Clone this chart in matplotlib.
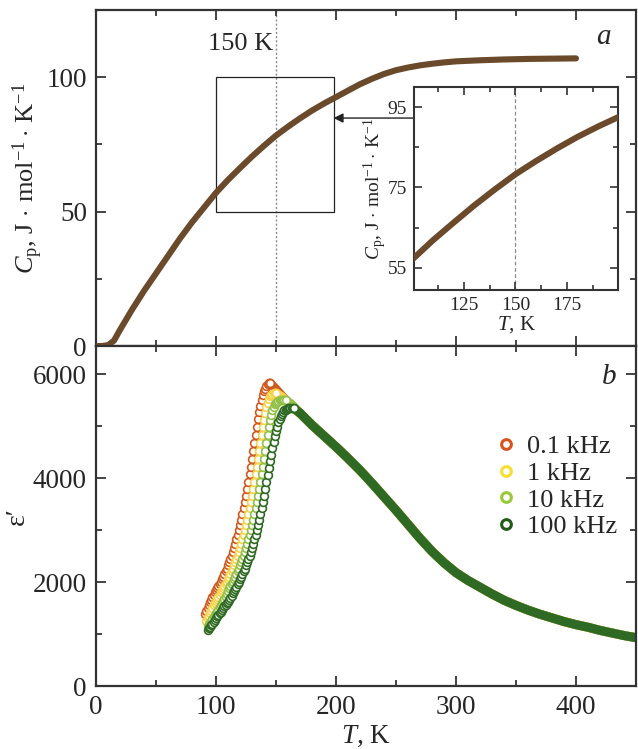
import matplotlib
matplotlib.use("Agg")
import matplotlib.pyplot as plt
from matplotlib.patches import Rectangle
from matplotlib.lines import Line2D
from matplotlib.ticker import MultipleLocator

plt.rcParams['font.family'] = ['Liberation Serif', 'DejaVu Serif']
plt.rcParams['mathtext.fontset'] = 'custom'
plt.rcParams['mathtext.rm'] = 'Liberation Serif'
plt.rcParams['mathtext.it'] = 'Liberation Serif:italic'

# ---------------- data: heat capacity ----------------
T_cp = [2, 5, 10, 15, 20, 30, 40, 50, 60, 70, 80, 90, 100, 110, 120, 130, 140, 150,
        160, 170, 180, 190, 200, 210, 220, 230, 240, 250, 260, 270, 280, 290, 300,
        320, 340, 360, 380, 400]
Cp = [0, 0, 0.3, 2, 6, 13.5, 20.5, 27, 33.5, 40, 46, 51.5, 57, 61.8, 66.2, 70.5, 74.5, 78.3,
      81.6, 84.7, 87.6, 90.2, 92.6, 95, 97.4, 99.4, 101.2, 102.6, 103.6, 104.4, 105, 105.5, 105.9,
      106.3, 106.6, 106.8, 106.9, 107]

# ---------------- data: dielectric permittivity ----------------
labels = ['0.1 kHz', '1 kHz', '10 kHz', '100 kHz']
colors = ['#cf5a1f', '#f6d34a', '#93c047', '#2f6a24']
legend_colors = ['#d9531e', '#f7df30', '#9ac93a', '#245a1a']

T_01 = list(range(91, 146))
eps_01 = [1380, 1440, 1500, 1555, 1610, 1660, 1710, 1755, 1800, 1840, 1880, 1920, 1960, 2005,
          2050, 2100, 2150, 2205, 2260, 2320, 2380, 2445, 2510, 2585, 2660, 2740, 2820, 2910,
          3000, 3100, 3200, 3310, 3420, 3540, 3660, 3795, 3930, 4075, 4220, 4370, 4520, 4675,
          4830, 4980, 5130, 5265, 5390, 5500, 5590, 5665, 5720, 5765, 5800, 5820, 5830]
T_01_desc = [145, 150, 155, 160, 165, 170]
eps_01_desc = [5830, 5710, 5580, 5450, 5330, 5250]

T_1 = list(range(92, 151))
eps_1 = [1250, 1300, 1350, 1400, 1450, 1500, 1550, 1600, 1630, 1680, 1720, 1760, 1800, 1840,
         1880, 1920, 1960, 2005, 2050, 2100, 2150, 2205, 2260, 2320, 2380, 2445, 2510, 2585,
         2660, 2740, 2820, 2910, 3000, 3100, 3200, 3310, 3420, 3540, 3660, 3795, 3930, 4075,
         4220, 4370, 4520, 4675, 4830, 4980, 5120, 5250, 5360, 5450, 5520, 5570, 5600, 5620,
         5630, 5635, 5635]
T_1_desc = [150, 155, 160, 165, 170]
eps_1_desc = [5635, 5560, 5440, 5330, 5250]

T_10 = list(range(93, 159))
eps_10 = [1150, 1185, 1220, 1255, 1290, 1325, 1360, 1395, 1430, 1470, 1510, 1550, 1590, 1630,
          1675, 1720, 1770, 1825, 1880, 1920, 1960, 2005, 2050, 2100, 2150, 2205, 2260, 2320,
          2380, 2445, 2510, 2585, 2660, 2740, 2820, 2910, 3000, 3100, 3200, 3310, 3420, 3540,
          3660, 3795, 3930, 4075, 4220, 4370, 4520, 4675, 4830, 4980, 5110, 5220, 5310, 5375,
          5420, 5450, 5472, 5487, 5496, 5500, 5503, 5504, 5503, 5500]
T_10_desc = [158, 163, 167, 170]
eps_10_desc = [5500, 5420, 5320, 5250]

T_100 = list(range(93, 166))
eps_100 = [1080, 1110, 1140, 1170, 1200, 1235, 1270, 1305, 1340, 1370, 1400, 1430, 1460, 1495,
           1530, 1560, 1590, 1625, 1660, 1700, 1740, 1780, 1820, 1860, 1905, 1955, 2005, 2050,
           2100, 2150, 2205, 2260, 2320, 2380, 2445, 2510, 2585, 2660, 2740, 2820, 2910, 3000,
           3100, 3200, 3310, 3420, 3540, 3660, 3795, 3930, 4060, 4190, 4320, 4450, 4570, 4690,
           4800, 4900, 4990, 5070, 5140, 5195, 5240, 5275, 5300, 5318, 5330, 5338, 5343, 5345,
           5345, 5343, 5340]
T_100_desc = [165, 170]
eps_100_desc = [5340, 5250]

# common high-temperature branch (all frequencies coincide)
T_tail = [170, 180, 190, 200, 210, 220, 230, 240, 250, 260, 270, 280, 290, 300, 310, 320,
          330, 340, 350, 360, 370, 380, 390, 400, 410, 420, 430, 440, 450]
eps_tail = [5250, 5020, 4810, 4600, 4380, 4150, 3900, 3640, 3380, 3110, 2840, 2590, 2370,
            2180, 2030, 1900, 1770, 1650, 1550, 1460, 1380, 1310, 1240, 1180, 1130, 1070,
            1020, 970, 930]

rise = [(T_01, eps_01), (T_1, eps_1), (T_10, eps_10), (T_100, eps_100)]
desc = [(T_01_desc, eps_01_desc), (T_1_desc, eps_1_desc), (T_10_desc, eps_10_desc),
        (T_100_desc, eps_100_desc)]

# ---------------- figure ----------------
fig = plt.figure(figsize=(6.38, 7.49), dpi=100)
W, H = 638, 749
def frac(x0, y0, x1, y1):
    return [x0 / W, 1 - y1 / H, (x1 - x0) / W, (y1 - y0) / H]

ax1 = fig.add_axes(frac(96, 10, 636, 346))
ax2 = fig.add_axes(frac(96, 346, 636, 686))
axin = fig.add_axes(frac(414, 87, 618, 290))

spc = '#333333'
tc = '#262626'
def style(ax, lw=1.6, size=19.5, maj=7, mnr=4, pad=6.5):
    for s in ax.spines.values():
        s.set_linewidth(lw)
        s.set_color(spc)
    ax.tick_params(which='both', direction='in', top=True, right=True, color=spc,
                   width=lw * 0.8, labelsize=size, labelcolor=tc, pad=pad)
    ax.tick_params(which='major', length=maj)
    ax.tick_params(which='minor', length=mnr)

brown = '#6b4a2c'

# --- panel a ---
style(ax1)
ax1.plot(T_cp, Cp, color=brown, lw=4.4, solid_capstyle='round', zorder=3)
ax1.set_xlim(0, 450)
ax1.set_ylim(0, 125)
ax1.xaxis.set_major_locator(MultipleLocator(100))
ax1.xaxis.set_minor_locator(MultipleLocator(50))
ax1.yaxis.set_major_locator(MultipleLocator(50))
ax1.yaxis.set_minor_locator(MultipleLocator(25))
ax1.tick_params(labelbottom=False)
ax1.axvline(150, color='#8a8a8a', lw=1.0, ls=(0, (1.5, 1.5)), zorder=1)
ax1.text(148, 112.5, '150 K', fontsize=19, ha='right', va='center', color=tc)
ax1.text(423, 115, 'a', fontsize=21, style='italic', ha='center', va='center', color=tc)
ax1.add_patch(Rectangle((100, 50), 98, 50, fill=False, lw=0.9, ec='#222222', zorder=2))
ax1.annotate('', xy=(198, 84.8), xytext=(265, 84.8),
             arrowprops=dict(arrowstyle='-|>', color='#222222', lw=1.0,
                             mutation_scale=14, shrinkA=0, shrinkB=0))
ax1.set_ylabel(r'$C_\mathrm{p}$, J$\,\cdot\,$mol$^{-1}\cdot\,$K$^{-1}$', fontsize=19,
               color=tc, labelpad=1)

# --- inset ---
style(axin, lw=1.5, size=14, maj=6, mnr=3.5, pad=5)
axin.plot(T_cp, Cp, color=brown, lw=4.4, zorder=3)
axin.set_xlim(101, 199.5)
axin.set_ylim(49.5, 100)
axin.set_xticks([125, 150, 175])
axin.set_xticks([112.5, 137.5, 162.5, 187.5], minor=True)
axin.set_yticks([55, 75, 95])
axin.set_yticks([65, 85], minor=True)
axin.axvline(150, color='#8a8a8a', lw=0.9, ls=(0, (3, 2)), zorder=1)
axin.set_xlabel(r'$T$, K', fontsize=15, color=tc, labelpad=0)
axin.set_ylabel(r'$C_\mathrm{p}$, J$\,\cdot\,$mol$^{-1}\cdot\,$K$^{-1}$', fontsize=14,
                color=tc, labelpad=-1)

# --- panel b ---
style(ax2)
for (Td, ed), c in zip(desc, colors):
    ax2.plot(Td, ed, color=c, lw=6.5, solid_capstyle='round', zorder=2)
    ax2.plot(T_tail, eps_tail, color=c, lw=6.5, solid_capstyle='round', zorder=2)
for (Tr, er), c in zip(rise, colors):
    ax2.plot(Tr, er, ls='none', marker='o', ms=5.6, mfc='white', mec=c, mew=1.2, zorder=3)
ax2.set_xlim(0, 450)
ax2.set_ylim(0, 6540)
ax2.xaxis.set_major_locator(MultipleLocator(100))
ax2.xaxis.set_minor_locator(MultipleLocator(50))
ax2.yaxis.set_major_locator(MultipleLocator(2000))
ax2.yaxis.set_minor_locator(MultipleLocator(1000))
ax2.text(428, 5940, 'b', fontsize=21, style='italic', ha='center', va='center', color=tc)
ax2.set_xlabel(r'$T$, K', fontsize=19.5, color=tc, labelpad=3)
ax2.set_ylabel("ε′", fontsize=20, color=tc, labelpad=2)

handles = [Line2D([], [], ls='none', marker='o', ms=7, mfc='white', mec=c, mew=2.2)
           for c in legend_colors]
ax2.legend(handles, labels, loc='upper left', bbox_to_anchor=(0.72, 0.77), frameon=False,
           fontsize=19, handlelength=0.8, handletextpad=0.4, labelspacing=0.12,
           borderaxespad=0, labelcolor=tc)

fig.savefig('out.png', dpi=100)
